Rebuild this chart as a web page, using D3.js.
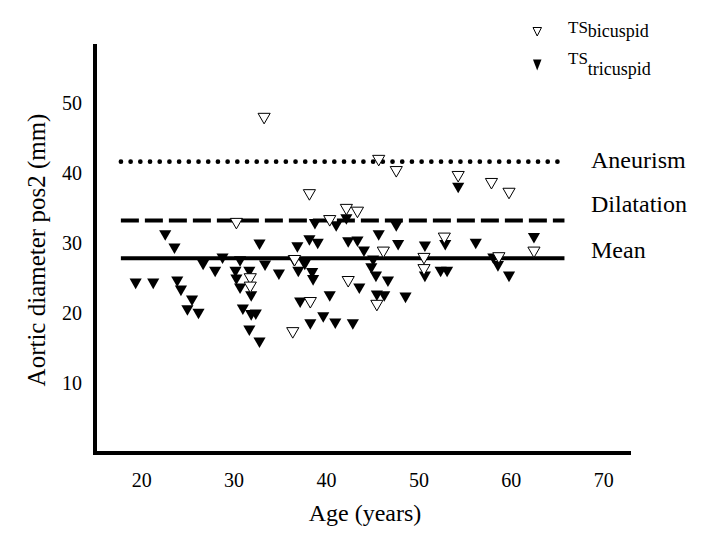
<!DOCTYPE html>
<html>
<head>
<meta charset="utf-8">
<script src="https://cdn.jsdelivr.net/npm/d3@7"></script>
<style>
	body { margin: 0; background: #fff; }
	text { font-family: "Liberation Serif", "Times New Roman", serif; fill: #000; }
</style>
</head>
<body>
<svg id="chart" width="728" height="545"></svg>
<script>
// age (years), aortic diameter pos2 (mm)
const bicuspid = [
	[33.3, 48.0], [45.7, 42.0], [47.6, 40.4], [54.3, 39.7], [57.9, 38.7], [59.8, 37.3],
	[38.2, 37.1], [30.3, 33.0], [40.4, 33.4], [42.2, 35.0], [43.4, 34.6], [52.8, 30.9],
	[46.2, 28.9], [50.6, 28.0], [50.6, 26.4], [42.4, 24.7], [45.5, 21.3], [62.5, 28.9],
	[58.7, 28.1], [31.8, 25.1], [31.8, 23.9], [38.3, 21.7], [36.4, 17.4], [36.6, 27.7]
];

const tricuspid = [
	[22.6, 31.3], [23.6, 29.4], [19.4, 24.4], [21.3, 24.4], [23.9, 24.7], [24.3, 23.4],
	[25.5, 22.0], [25.0, 20.6], [26.2, 20.1], [26.7, 27.1], [28.0, 26.1], [28.8, 28.0],
	[30.2, 26.1], [30.7, 27.6], [30.3, 25.0], [30.7, 23.7], [31.7, 26.1], [31.9, 22.6],
	[31.0, 20.7], [32.4, 20.0], [31.9, 19.9], [31.7, 17.7], [32.8, 16.0], [32.8, 30.0],
	[33.4, 27.0], [34.9, 25.7], [36.5, 27.7], [36.9, 29.6], [37.0, 26.1], [38.2, 30.6],
	[39.1, 30.1], [38.5, 25.9], [38.6, 24.9], [37.2, 21.7], [38.3, 18.6], [39.7, 19.6],
	[40.4, 22.6], [41.0, 18.7], [38.8, 32.9], [41.1, 32.6], [42.2, 33.6], [37.7, 27.1],
	[42.4, 30.3], [43.4, 30.4], [44.1, 29.0], [45.7, 31.3], [47.6, 32.6], [47.8, 29.9],
	[50.7, 29.7], [52.9, 29.9], [45.1, 27.7], [44.9, 26.6], [50.7, 25.4], [52.4, 26.1],
	[53.1, 26.1], [45.4, 25.4], [46.7, 24.7], [43.6, 23.7], [45.5, 22.7], [46.3, 22.6],
	[48.6, 22.4], [42.9, 18.6], [54.3, 38.1], [56.2, 30.1], [62.5, 30.9], [58.1, 28.0],
	[58.6, 26.9], [59.8, 25.4]
];

const refLines = [
	{ label: "Aneurism", value: 41.6, style: "dotted" },
	{ label: "Dilatation", value: 33.2, style: "dashed" },
	{ label: "Mean", value: 27.8, style: "solid" }
];
const refRange = [17.8, 65.8];

const xTicks = [20, 30, 40, 50, 60, 70];
const yTicks = [10, 20, 30, 40, 50];

const svg = d3.select("#chart");

const x = d3.scaleLinear().domain([15, 73]).range([95, 631]);
const y = d3.scaleLinear().domain([0, 58.4]).range([453, 44]);

// axes (lines only, no tick marks)
svg
	.append("path")
	.attr("d", `M${x(15)},${y(58.4)}V${y(0)}H${x(73)}`)
	.attr("fill", "none")
	.attr("stroke", "#000")
	.attr("stroke-width", 4);

const xAxis = svg
	.append("g")
	.attr("transform", `translate(0,${y(0)})`)
	.call(d3.axisBottom(x).tickValues(xTicks).tickSize(0).tickPadding(34));
xAxis.select(".domain").remove();
xAxis.selectAll("text").attr("font-size", 20).attr("dy", 0);

const yAxis = svg
	.append("g")
	.attr("transform", `translate(${x(15)},0)`)
	.call(d3.axisLeft(y).tickValues(yTicks).tickSize(0).tickPadding(13));
yAxis.select(".domain").remove();
yAxis.selectAll("text").attr("font-size", 20).attr("dy", "0.35em");

svg.selectAll(".tick text").attr("font-family", "Liberation Serif").attr("fill", "#000");

// axis titles
svg
	.append("text")
	.attr("x", 365)
	.attr("y", 521)
	.attr("text-anchor", "middle")
	.attr("font-size", 24)
	.text("Age (years)");

svg
	.append("text")
	.attr("transform", "translate(45,250) rotate(-90)")
	.attr("text-anchor", "middle")
	.attr("font-size", 25)
	.text("Aortic diameter pos2 (mm)");

// reference lines
const dash = { dotted: "0.1 9.6", dashed: "18 6", solid: null };
const width = { dotted: 4.6, dashed: 4, solid: 4 };
const labelShift = { dotted: 6, dashed: -8, solid: 0 };

svg
	.append("g")
	.selectAll("line")
	.data(refLines)
	.enter()
	.append("line")
	.attr("x1", x(refRange[0]))
	.attr("x2", x(refRange[1]))
	.attr("y1", (d) => y(d.value))
	.attr("y2", (d) => y(d.value))
	.attr("stroke", "#000")
	.attr("stroke-width", (d) => width[d.style])
	.attr("stroke-linecap", (d) => (d.style === "dotted" ? "round" : "butt"))
	.attr("stroke-dasharray", (d) => dash[d.style]);

svg
	.append("g")
	.selectAll("text")
	.data(refLines)
	.enter()
	.append("text")
	.attr("x", 591)
	.attr("y", (d) => y(d.value) + labelShift[d.style])
	.attr("font-size", 24)
	.text((d) => d.label);

// points
const tri = d3.symbol().type(d3.symbolTriangle).size(64);

svg
	.append("g")
	.selectAll("path")
	.data(tricuspid)
	.enter()
	.append("path")
	.attr("d", tri)
	.attr("transform", (d) => `translate(${x(d[0])},${y(d[1])}) rotate(180)`)
	.attr("fill", "#000");

svg
	.append("g")
	.selectAll("path")
	.data(bicuspid)
	.enter()
	.append("path")
	.attr("d", tri)
	.attr("transform", (d) => `translate(${x(d[0])},${y(d[1])}) rotate(180)`)
	.attr("fill", "#fff")
	.attr("stroke", "#000")
	.attr("stroke-width", 1);

// legend
const legend = svg.append("g");

legend
	.append("path")
	.attr("d", "M533,27.5H541.5L537.2,36Z")
	.attr("fill", "#fff")
	.attr("stroke", "#000")
	.attr("stroke-width", 1);

legend
	.append("path")
	.attr("d", "M533,59.5H541.5L537.2,70.5Z")
	.attr("fill", "#000");

const t1 = legend.append("text").attr("x", 568).attr("y", 33).attr("font-size", 17);
t1.append("tspan").text("TS");
t1.append("tspan").attr("dy", 4).attr("font-size", 18).text("bicuspid");

const t2 = legend.append("text").attr("x", 568).attr("y", 64).attr("font-size", 17);
t2.append("tspan").text("TS");
t2.append("tspan").attr("dy", 11).attr("font-size", 18).text("tricuspid");
</script>
</body>
</html>
